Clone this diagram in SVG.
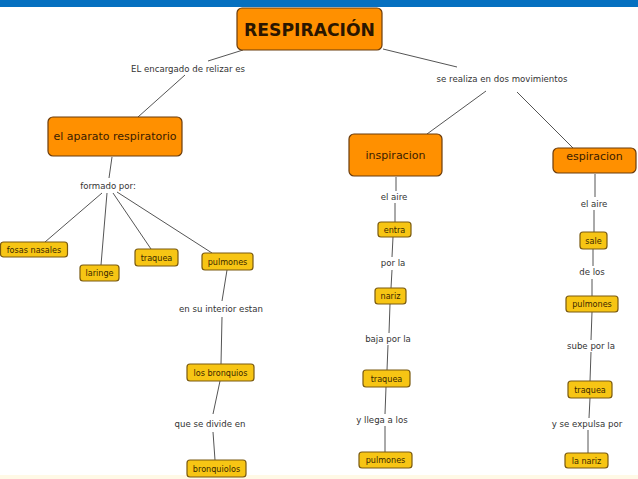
<svg xmlns="http://www.w3.org/2000/svg" width="638" height="479" viewBox="0 0 638 479">
<style>
text{font-family:"DejaVu Sans","Verdana",sans-serif;text-anchor:middle;dominant-baseline:central}
.main rect,.big rect{fill:#FF9000;stroke:#6b3c0c;stroke-width:1.2}
.main text{font-size:17.2px;font-weight:bold;fill:#2a1600}
.big text{font-size:11px;fill:#3a1c00}
.small rect{fill:#F7C514;stroke:#7a5a10;stroke-width:1.2}
.small text{font-size:8.1px;fill:#3a2800}
.lbl{font-size:8.6px;fill:#333}
#connectors line{stroke:#555;stroke-width:1}
</style>
<rect x="0" y="0" width="638" height="479" fill="#fff"/>
<rect x="0" y="0" width="638" height="7" fill="#0670C0"/>
<rect x="0" y="475" width="638" height="4" fill="#FFF9E6"/>

<g id="connectors">
<line x1="243" y1="50" x2="208" y2="61"/>
<line x1="185" y1="75" x2="138" y2="117"/>
<line x1="383" y1="49" x2="457" y2="67"/>
<line x1="486" y1="91" x2="427" y2="134"/>
<line x1="517" y1="92" x2="573" y2="148"/>
<line x1="112" y1="157" x2="109" y2="178"/>
<line x1="102" y1="193" x2="45" y2="242"/>
<line x1="107" y1="193" x2="101" y2="265"/>
<line x1="113" y1="193" x2="151" y2="249"/>
<line x1="117" y1="192" x2="212" y2="253"/>
<line x1="227" y1="270" x2="222" y2="301"/>
<line x1="222" y1="317" x2="221" y2="364"/>
<line x1="220" y1="381" x2="213" y2="414"/>
<line x1="213" y1="432" x2="215" y2="460"/>
<line x1="396" y1="177" x2="396" y2="191"/>
<line x1="395" y1="203" x2="395" y2="222"/>
<line x1="393" y1="237" x2="392" y2="257"/>
<line x1="392" y1="270" x2="391" y2="288"/>
<line x1="390" y1="304" x2="389" y2="333"/>
<line x1="388" y1="345" x2="387" y2="370"/>
<line x1="386" y1="387" x2="385" y2="414"/>
<line x1="385" y1="426" x2="385" y2="452"/>
<line x1="595" y1="174" x2="595" y2="197"/>
<line x1="594" y1="210" x2="594" y2="232"/>
<line x1="593" y1="249" x2="593" y2="266"/>
<line x1="592" y1="279" x2="592" y2="296"/>
<line x1="592" y1="312" x2="591" y2="340"/>
<line x1="591" y1="352" x2="590" y2="381"/>
<line x1="590" y1="398" x2="589" y2="418"/>
<line x1="588" y1="430" x2="588" y2="453"/>
</g>

<g id="respiracion" class="main"><rect x="237" y="8" width="145" height="42" rx="5"/><text x="309.5" y="30">RESPIRACIÓN</text></g>
<g id="aparato" class="big"><rect x="48" y="117" width="134" height="39" rx="5"/><text x="115" y="136">el aparato respiratorio</text></g>
<g id="inspiracion" class="big"><rect x="349" y="134" width="93" height="42" rx="5"/><text x="395.5" y="155">inspiracion</text></g>
<g id="espiracion" class="big"><rect x="553" y="148" width="83" height="25" rx="5"/><text x="594.5" y="156">espiracion</text></g>

<g id="lbl-encargado"><text class="lbl" x="188" y="69">EL encargado de relizar es</text></g>
<g id="lbl-realiza"><text class="lbl" x="502" y="79">se realiza en dos movimientos</text></g>
<g id="lbl-formado"><text class="lbl" x="108" y="186">formado por:</text></g>
<g id="lbl-interior"><text class="lbl" x="221" y="309">en su interior estan</text></g>
<g id="lbl-divide"><text class="lbl" x="210" y="424">que se divide en</text></g>
<g id="lbl-aire1"><text class="lbl" x="394" y="197">el aire</text></g>
<g id="lbl-porla"><text class="lbl" x="393" y="263">por la</text></g>
<g id="lbl-baja"><text class="lbl" x="388" y="339">baja por la</text></g>
<g id="lbl-llega"><text class="lbl" x="382" y="420">y llega a los</text></g>
<g id="lbl-aire2"><text class="lbl" x="594" y="204">el aire</text></g>
<g id="lbl-delos"><text class="lbl" x="592" y="272">de los</text></g>
<g id="lbl-sube"><text class="lbl" x="591" y="346">sube por la</text></g>
<g id="lbl-expulsa"><text class="lbl" x="587" y="424">y se expulsa por</text></g>

<g id="fosas" class="small"><rect x="0.5" y="242" width="67" height="15" rx="3"/><text x="34" y="249.5">fosas nasales</text></g>
<g id="laringe" class="small"><rect x="80" y="265" width="39" height="16" rx="3"/><text x="99.5" y="273">laringe</text></g>
<g id="traquea1" class="small"><rect x="135" y="249" width="43" height="17" rx="3"/><text x="156.5" y="257.5">traquea</text></g>
<g id="pulmones1" class="small"><rect x="202" y="253" width="51" height="17" rx="3"/><text x="227.5" y="261.5">pulmones</text></g>
<g id="bronquios" class="small"><rect x="187" y="364" width="67" height="17" rx="3"/><text x="220.5" y="372.5">los bronquios</text></g>
<g id="bronquiolos" class="small"><rect x="187" y="460" width="59" height="17" rx="3"/><text x="216.5" y="468.5">bronquiolos</text></g>
<g id="entra" class="small"><rect x="378" y="222" width="33" height="15" rx="3"/><text x="394.5" y="229.5">entra</text></g>
<g id="nariz" class="small"><rect x="375" y="288" width="31" height="16" rx="3"/><text x="390.5" y="296">nariz</text></g>
<g id="traquea2" class="small"><rect x="363" y="370" width="47" height="17" rx="3"/><text x="386.5" y="378.5">traquea</text></g>
<g id="pulmones2" class="small"><rect x="359" y="452" width="53" height="16" rx="3"/><text x="385.5" y="460">pulmones</text></g>
<g id="sale" class="small"><rect x="580" y="232" width="27" height="17" rx="3"/><text x="593.5" y="240.5">sale</text></g>
<g id="pulmones3" class="small"><rect x="566" y="296" width="52" height="16" rx="3"/><text x="592" y="304">pulmones</text></g>
<g id="traquea3" class="small"><rect x="568" y="381" width="44" height="17" rx="3"/><text x="590" y="389.5">traquea</text></g>
<g id="lanariz" class="small"><rect x="565" y="453" width="43" height="15" rx="3"/><text x="586.5" y="460.5">la nariz</text></g>
</svg>
